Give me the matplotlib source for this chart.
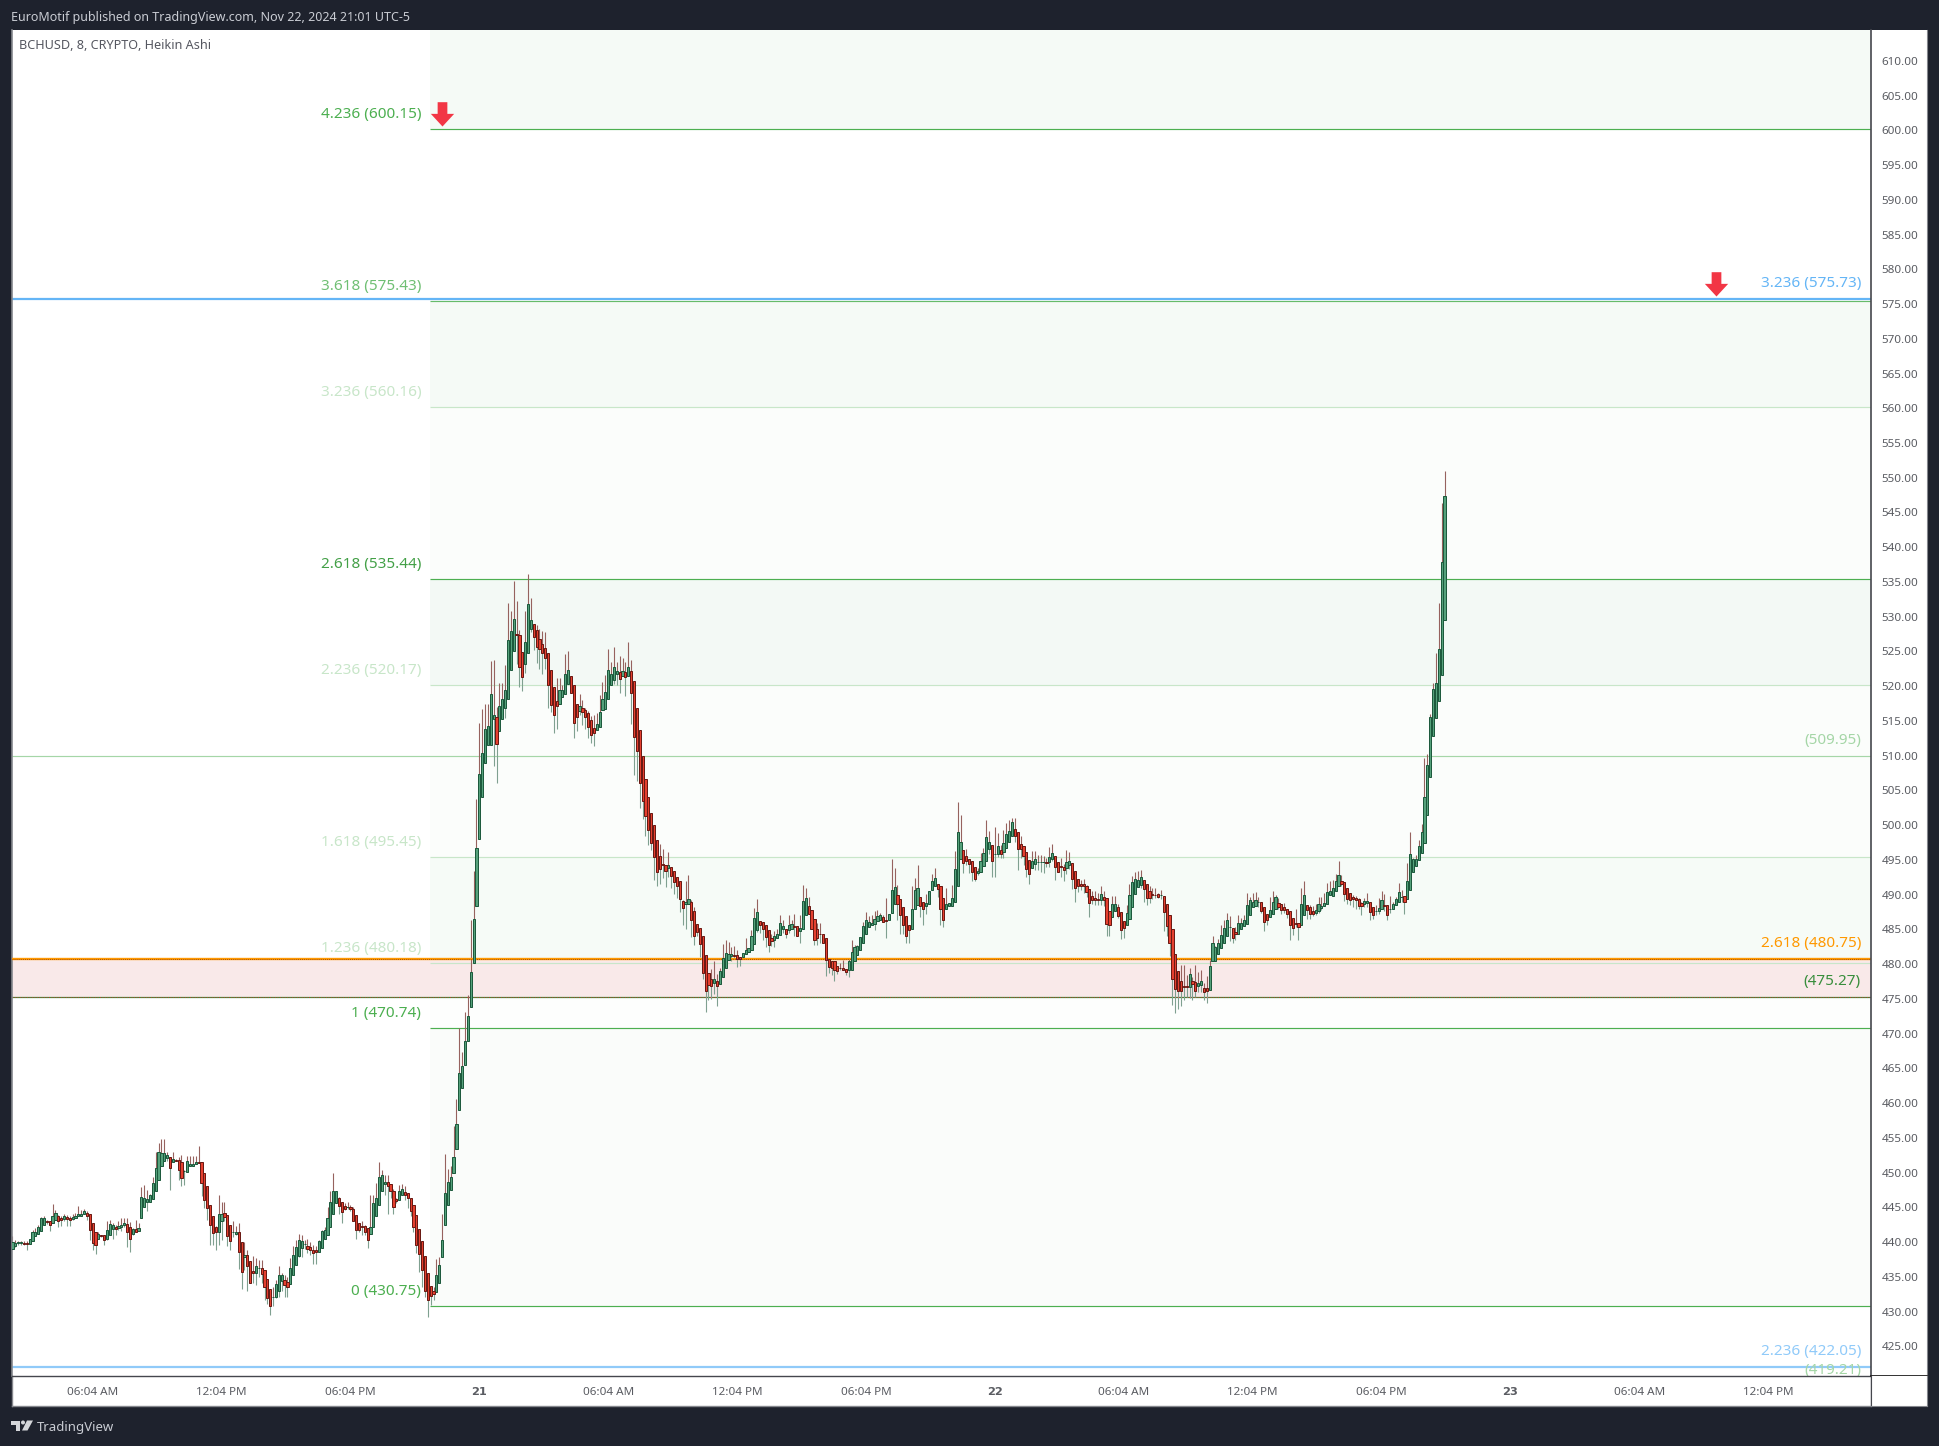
import numpy as np
import matplotlib
matplotlib.use('Agg')
import matplotlib.pyplot as plt
from matplotlib.path import Path
from matplotlib.patches import Rectangle, Circle, Polygon

plt.rcParams['font.family'] = ['Noto Sans', 'DejaVu Sans']

# heikin ashi bars, 8 minute candles, one block per stretch of the chart
open_a = [439.0,439.5,439.8,439.9,439.9,439.8,439.7,440.1,440.8,441.1,
441.6,442.4,443.0,443.0,442.7,443.2,443.7,443.4,443.3,443.6,
443.5,443.3,443.4,443.7,443.8,444.0,444.2,444.0,442.8,441.4,
440.5,441.0,441.0,440.5,441.0,441.9,442.2,442.0,442.1,442.4,
442.6,442.1,441.2,441.9,441.6,443.4,445.0,445.7,445.7,446.2,
447.4,449.0,451.0,451.6,452.1,452.3,451.5,451.8,451.8,451.5,
450.2,450.1,450.9,451.0,451.2,451.5,451.5,450.0,448.0,445.3,
443.8,442.1,441.5,443.0,444.2,443.9,442.5,441.4,441.2,441.5,
440.0,437.8,438.2,437.3,435.8,435.6,436.2,436.2,436.0,434.7,
433.3,432.1,432.1,433.0,434.4,434.6,434.2,433.9,435.2,436.7,
438.0,439.1,439.7,439.5,439.3,438.9,438.8,438.5,439.2,440.4,
441.0,442.2,444.1,445.6,446.4,445.8,445.2,445.0,445.0,444.8,
443.9,442.7,442.3,442.3,442.0,441.1,442.1,443.8,445.4,447.3,
448.4,448.6,448.4,447.3,446.2,446.0,446.8,447.2,447.1,446.3,
445.3,443.9,441.9,440.1,438.0,435.5,433.7,433.0]
close_a = [440.0,439.8,440.0,440.0,439.7,439.7,440.4,441.4,441.5,442.1,
443.4,443.4,442.9,442.5,443.7,444.2,443.0,443.1,443.7,443.3,
443.1,443.6,443.8,444.0,444.1,444.4,443.7,441.7,439.8,439.6,
441.2,440.9,440.3,441.7,442.6,442.5,441.9,442.3,442.5,442.7,
441.4,440.5,441.9,441.4,442.0,446.5,446.4,446.2,446.7,448.5,
450.6,452.9,452.8,452.8,452.5,450.6,451.9,451.7,450.3,449.2,
450.2,451.7,451.3,451.3,451.5,451.4,448.5,446.0,444.9,442.5,
441.3,441.4,444.0,444.1,443.6,440.9,440.2,441.4,441.5,438.5,
435.7,438.2,436.5,434.1,435.5,436.6,436.2,435.4,433.5,431.9,
430.8,432.1,433.9,435.3,435.3,433.8,433.6,436.3,438.1,439.3,
440.3,440.2,439.7,439.0,438.9,438.4,438.5,440.1,441.6,441.7,
443.4,445.8,447.4,447.4,445.2,444.3,444.8,445.0,444.7,443.0,
441.7,441.7,442.2,441.4,440.3,442.2,445.6,446.4,449.3,449.6,
448.7,448.1,447.3,445.0,445.9,447.4,447.6,446.7,446.3,444.4,
442.2,439.6,438.3,436.0,432.9,431.7,432.3,432.5]
high_a = [440.8,440.3,440.2,440.2,440.1,440.2,440.5,441.7,442.0,442.5,
443.6,443.8,443.2,443.0,445.5,444.6,443.9,443.8,444.1,443.9,
443.8,444.1,444.2,445.2,444.6,444.7,444.5,444.0,442.8,441.4,
441.5,441.0,441.0,443.0,443.1,442.8,442.4,443.0,443.4,443.5,
443.4,442.9,442.0,443.2,442.7,447.9,448.2,447.5,446.9,449.4,
452.9,454.2,454.8,454.9,453.0,452.3,453.0,451.9,452.3,452.5,
450.4,452.4,452.4,452.4,452.4,453.8,451.5,450.0,448.0,445.3,
443.8,442.3,446.8,445.8,445.7,443.9,442.5,443.0,442.3,442.7,
440.0,440.0,438.8,437.3,438.0,437.7,437.4,437.4,436.0,434.7,
433.3,433.6,434.6,436.6,435.6,435.3,435.0,437.7,439.4,440.3,
441.2,441.0,440.3,440.5,440.0,439.6,439.4,440.3,441.7,442.1,
445.1,447.4,449.9,447.4,446.5,445.8,445.6,445.8,445.3,445.0,
443.9,442.7,443.0,442.5,442.0,446.8,446.8,448.5,451.5,450.4,
449.7,449.7,448.4,447.7,446.3,448.2,448.4,448.0,447.1,446.3,
445.3,443.9,441.9,440.1,438.0,435.5,433.7,433.6]
low_a = [439.0,439.3,439.6,439.6,439.6,438.8,439.7,440.1,440.8,441.1,
441.6,442.4,442.6,441.6,442.7,443.2,442.1,442.3,443.0,442.3,
442.3,443.2,443.4,443.7,443.8,444.0,443.2,440.3,438.8,438.3,
440.4,440.7,439.6,440.3,441.0,440.4,441.0,441.7,441.6,442.2,
439.3,438.5,441.0,441.4,441.6,443.4,445.0,444.4,445.7,446.2,
447.4,449.0,451.0,451.6,451.6,447.5,451.5,451.6,449.0,448.1,
448.2,450.1,450.9,451.0,451.2,451.4,446.6,444.9,443.2,439.6,
439.6,438.9,439.6,440.3,443.0,439.4,438.9,440.7,441.0,436.1,
433.2,436.0,432.9,434.1,434.1,433.8,435.0,434.1,431.7,431.1,
429.5,430.8,431.9,432.1,432.9,432.1,432.1,433.9,435.2,436.7,
437.9,437.9,439.0,438.4,438.1,436.8,436.9,438.5,439.1,440.4,
441.0,442.2,444.1,445.6,444.0,442.8,444.6,444.7,444.4,443.0,
440.4,441.5,441.0,441.0,439.2,441.1,442.1,443.8,445.4,447.3,
446.8,444.0,446.4,444.0,445.6,446.0,446.8,446.1,444.9,443.7,
441.5,438.4,435.7,433.6,432.1,429.2,431.0,431.7]

open_b = [432.8,434.1,437.8,442.4,445.4,447.5,449.9,453.4,459.0,462.1,
465.5,469.0,473.8,480.1,488.3,498.0,504.0,509.0,511.6,511.6,
515.3,515.5,513.6,515.3,516.8,518.1,522.4,525.1,527.5,527.4,
524.9,523.2,524.8,528.3,529.0,528.1,526.8,526.1,525.5,524.8,
522.4,519.9,517.8,517.5,518.4,518.9,520.3,521.4,520.2,517.4,
516.5,516.9,516.6,516.1,515.2,514.0,513.7,514.1,516.6,516.7,
518.1,520.2,520.9,521.8,522.0,521.5,522.0,521.5,522.2,520.7,
516.8,513.7,509.9,506.7,504.0,501.8,500.0,497.8,495.6,494.4,
494.3,493.9,494.0,493.4,492.5,492.0,489.1,488.7,488.7,489.0,
487.7,485.8,485.2,484.1,481.3,478.7,477.8,477.3,477.5,477.2,
478.2,479.5,480.6]
close_b = [435.2,436.7,440.3,447.0,448.6,449.3,452.2,457.0,464.4,465.3,
468.9,472.5,478.9,486.5,496.7,507.3,510.4,513.9,514.2,518.9,
515.8,511.7,517.1,518.1,519.5,526.7,528.0,529.6,527.3,522.7,
521.3,526.4,531.9,529.5,527.1,525.6,525.3,524.8,524.1,520.1,
517.3,515.8,517.2,519.4,519.5,521.8,522.4,519.0,514.7,515.6,
517.2,516.3,515.6,514.1,513.0,513.3,514.5,516.3,518.2,519.2,
522.4,521.7,522.7,522.2,521.1,522.2,521.3,522.8,519.0,512.7,
510.7,506.0,503.5,501.3,499.3,497.5,495.4,493.2,493.7,494.3,
493.4,494.3,492.7,491.8,491.2,489.4,488.1,489.0,489.4,486.4,
484.0,484.6,482.9,478.7,476.1,477.0,476.8,477.8,476.9,479.0,
480.9,481.6,481.5]
high_b = [437.6,437.8,444.0,452.7,450.5,451.0,456.7,460.6,470.8,467.4,
473.1,475.6,486.4,493.4,503.7,514.7,516.7,517.5,517.4,523.6,
523.7,517.0,520.4,520.4,523.0,532.0,530.8,535.1,532.2,528.1,
524.9,530.8,536.1,532.7,529.0,528.8,528.3,528.0,527.8,524.8,
522.4,519.9,521.2,521.2,520.1,524.6,525.0,521.4,520.2,517.4,
518.9,518.0,516.9,516.5,515.7,515.8,516.1,518.7,520.6,521.6,
525.3,523.5,525.6,523.5,524.3,524.0,523.5,526.3,523.7,520.7,
516.8,513.7,509.9,506.7,504.0,501.8,500.0,497.8,497.3,496.5,
494.3,496.2,494.0,493.4,492.5,492.0,489.2,491.9,492.8,489.2,
488.2,485.8,485.2,484.1,481.3,478.7,479.3,480.5,478.6,479.5,
482.9,483.4,483.2]
low_b = [432.8,434.1,437.8,442.4,445.4,447.5,449.9,453.4,459.0,462.1,
465.5,469.0,473.8,480.1,488.3,498.0,504.0,509.0,511.6,511.6,
508.5,506.1,513.6,515.3,515.4,518.1,522.4,525.1,523.2,519.9,
519.3,521.9,524.8,527.8,525.2,523.3,522.5,521.8,522.5,516.8,
516.3,513.2,513.9,517.5,518.4,518.9,520.3,519.0,512.6,513.6,
515.8,514.4,513.9,512.5,511.8,511.4,513.7,514.1,516.6,516.7,
518.1,520.2,520.3,520.1,519.0,521.5,518.6,521.5,514.6,507.2,
506.3,502.4,500.9,498.5,497.1,496.4,492.1,491.2,491.6,492.4,
491.1,492.5,491.0,490.1,489.5,487.5,485.6,485.1,488.7,483.9,
482.7,484.0,481.0,477.9,473.1,474.8,475.0,475.7,473.9,477.2,
478.2,479.5,480.6]

open_c = [481.1,481.3,481.3,481.0,481.0,481.5,481.7,482.0,482.9,484.9,
486.2,486.0,485.6,484.9,483.7,483.5,483.7,484.2,485.0,485.1,
484.9,485.1,485.5,485.5,484.7,485.0,487.0,488.3,487.8,486.5,
485.0,484.4,484.4,483.7,480.8,480.5,480.4,479.8,479.5,479.5,
479.3,479.2,479.2,480.5,481.3,482.0,483.0,484.3,485.3,485.6,
485.8,486.2,486.4,486.8,486.3,486.3,487.3,488.7,489.9,489.3,
488.2,486.9,485.6,485.1,488.0,488.5,489.7,489.0,488.4,488.6,
490.7,491.2,491.6,491.2,489.5,488.0,488.3,488.4,489.0,491.3,
495.1,496.4,495.6,495.1,494.8,494.0,493.1,493.2,494.1,494.9,
496.6,497.1,495.9,495.9,496.4,496.1,496.7,497.6,498.5,499.4,
499.0,497.3,497.0,496.2,495.0,493.9,494.4,494.7,494.7,494.7,
494.7,494.7,495.1,495.5,494.7,494.1,494.0,493.8,494.2,494.5,
493.4,492.2,491.6,491.5,491.3,490.8,489.8,489.5,489.3,489.2,
489.6,489.5,487.6,486.8,487.6,488.2,487.5,486.2,485.7,486.5,
488.2,490.1,491.1,491.4,492.1,491.5,490.5,490.1,490.0,490.1,
489.9,489.8,488.6,487.0,485.0,481.5,479.0,477.5,476.8,476.8,
476.7]
close_c = [481.5,481.2,480.8,480.8,481.6,482.0,482.3,484.0,486.6,487.5,
485.7,485.1,483.9,482.7,483.3,484.0,484.4,485.9,485.5,484.4,
485.6,485.8,485.4,484.1,485.2,489.1,489.5,487.2,485.0,483.5,
483.8,484.3,483.1,480.6,479.6,479.5,479.2,479.0,479.4,479.2,
478.8,480.4,481.7,482.4,482.6,483.9,485.5,486.3,486.0,485.9,
486.5,486.9,487.0,486.0,486.25,487.2,490.7,491.1,488.7,487.1,
485.7,484.1,484.9,488.0,490.7,490.9,488.4,487.9,488.8,490.5,
491.9,492.4,490.8,487.9,486.4,488.7,488.8,489.5,493.7,499.0,
497.6,494.5,494.8,494.4,493.2,492.2,493.4,494.8,496.0,498.3,
497.6,494.9,495.9,497.0,495.8,497.4,498.7,499.2,500.4,498.4,
496.5,496.5,495.5,493.7,493.0,494.8,495.1,494.7,494.7,494.7,
494.6,495.4,496.0,494.0,493.3,494.0,493.6,494.7,494.8,492.3,
490.9,491.2,491.2,491.2,490.4,488.8,489.2,489.2,489.2,490.1,
489.2,485.8,485.7,488.6,488.6,486.9,484.9,485.2,487.3,489.9,
491.8,492.2,492.1,492.5,490.8,489.5,489.5,490.0,489.9,489.6,
489.9,487.5,485.5,483.1,477.9,476.4,476.1,476.1,476.7,476.7,
478.6]
high_c = [482.5,482.6,482.0,481.0,481.6,483.7,482.3,484.9,488.1,489.4,
486.2,486.0,485.7,484.9,484.4,484.7,485.0,487.1,486.4,485.1,
487.1,486.3,487.2,485.5,487.1,491.4,491.0,489.6,487.8,486.5,
485.9,485.9,484.4,483.7,480.8,480.5,480.4,479.8,480.1,480.6,
479.3,480.9,483.5,482.8,482.8,483.9,486.1,487.5,486.9,487.1,
487.7,487.8,487.3,487.0,489.5,487.2,495.2,493.9,491.4,489.3,
488.2,486.9,485.6,491.3,492.4,494.3,489.7,489.0,490.1,490.5,
493.0,493.8,491.6,491.2,489.5,490.9,488.8,491.4,496.3,503.3,
501.5,496.4,496.5,495.1,494.8,494.0,493.9,496.0,496.7,500.8,
499.1,497.1,499.7,498.8,497.2,499.3,500.3,500.7,501.1,501.0,
499.0,498.5,497.0,496.2,495.0,496.3,496.3,495.7,495.7,495.5,
495.3,496.9,497.3,495.5,494.7,495.3,494.4,496.4,496.2,494.5,
493.4,492.2,492.1,492.3,491.4,490.8,490.5,490.5,490.2,491.3,
490.5,489.5,487.6,489.8,489.8,488.6,487.5,486.2,488.5,491.6,
492.7,493.2,493.4,493.6,492.1,491.5,491.2,490.9,491.0,490.2,
490.7,489.8,488.6,487.0,485.0,481.5,479.0,479.9,479.9,478.4,
479.4]
low_c = [480.4,480.8,479.6,479.7,481.0,481.5,481.7,482.0,482.9,484.6,
484.5,483.4,482.5,481.7,482.6,482.5,483.7,484.2,484.5,483.7,
484.5,485.1,484.0,484.1,483.1,485.0,487.0,487.2,485.0,482.8,
482.8,483.0,483.1,478.3,478.7,478.5,477.5,478.6,479.2,479.1,
478.4,478.1,479.2,480.5,481.3,482.0,483.0,484.3,485.3,485.6,
484.9,486.2,486.4,486.0,483.8,486.3,487.3,488.7,486.3,484.4,
484.4,483.0,483.0,485.1,488.0,488.5,486.8,485.7,487.2,488.6,
490.7,491.2,489.6,485.6,485.3,488.0,488.3,488.4,489.0,491.3,
495.1,493.1,494.2,493.1,491.9,492.0,492.8,493.2,494.1,494.9,
495.8,492.6,492.5,495.4,495.3,495.3,496.7,497.6,498.5,497.6,
493.6,495.3,494.3,492.6,491.6,493.9,493.6,493.6,493.3,493.1,
494.0,494.0,494.8,492.1,493.3,492.5,492.0,493.0,493.7,490.8,
488.9,490.4,490.7,490.2,489.7,486.8,488.7,488.5,488.5,488.5,
488.3,484.0,484.0,486.8,487.6,486.6,483.6,483.7,485.7,486.5,
488.2,490.1,491.1,490.9,488.9,488.5,488.8,489.4,489.5,489.5,
489.4,484.7,484.0,481.1,474.1,473.0,473.5,473.9,474.9,475.3,
475.1]

open_d = [477.6,477.4,476.9,477.0,476.6,476.5,476.3,480.4,480.4,481.4,
482.3,483.1,484.1,485.3,485.2,484.6,484.4,485.1,485.5,485.8,
487.1,488.2,488.4,488.9,488.9,488.2,487.2,486.8,487.2,488.0,
488.8,488.6,488.2,487.9,487.6,486.6,485.9,485.9,485.6,487.0,
488.5,488.2,487.6,487.4,487.6,488.1,488.3,488.6,489.9,489.8,
490.5,491.2,491.9,491.8,490.9,490.2,489.6,489.5,489.4,488.8,
488.6,488.8,488.9,488.2,487.6,487.6,487.9,488.5,488.5,487.9,
487.9,488.5,488.9,489.6,489.8,489.3,490.6,493.2,494.1,495.0,
496.0,497.5,501.5,507.0,512.8,515.4,517.9,521.6,529.5]
close_d = [477.2,476.2,477.3,477.5,476.0,476.1,479.8,483.0,482.4,483.0,
484.2,485.2,486.4,485.3,483.8,484.3,485.9,485.9,486.3,488.5,
489.2,488.9,489.2,488.9,487.6,486.0,486.3,487.8,488.9,489.6,
488.2,487.8,487.8,487.2,485.7,485.2,485.8,485.3,488.6,489.9,
487.8,487.2,487.2,487.8,488.6,488.4,488.8,490.4,490.5,490.9,
492.0,492.8,491.5,490.1,489.3,489.2,489.3,489.2,488.3,488.3,
489.1,489.1,487.5,487.0,487.6,488.1,489.2,488.4,487.0,487.9,
488.6,489.4,490.4,489.7,488.9,491.9,495.8,495.2,495.2,497.0,
499.0,504.0,508.6,515.5,519.6,520.4,525.4,537.9,547.4]
high_d = [478.2,479.9,478.9,479.2,477.3,478.3,480.6,484.1,482.6,483.6,
485.6,486.4,487.4,486.9,485.2,485.4,487.0,486.6,487.0,490.3,
489.6,490.2,490.4,489.6,488.9,488.2,487.2,489.7,490.5,490.0,
489.5,488.6,488.8,487.9,487.6,486.6,487.9,485.9,491.0,492.0,
488.5,488.5,488.3,488.7,489.6,489.7,490.2,491.7,491.9,492.1,
492.9,494.9,492.8,491.8,490.9,490.2,490.0,489.8,489.5,489.0,
489.5,490.2,488.9,488.2,488.5,489.5,490.5,490.1,488.5,489.8,
489.0,489.7,491.7,490.7,489.8,494.5,499.0,495.3,495.7,497.8,
500.1,509.7,510.3,516.0,520.5,524.8,532.0,546.4,550.9]
low_d = [474.8,475.3,476.0,476.0,474.9,474.4,476.3,480.4,480.4,481.4,
482.3,483.1,484.1,483.3,483.0,483.5,484.4,485.1,485.5,485.8,
487.1,488.2,488.4,488.2,487.4,484.7,485.7,486.8,487.2,488.0,
488.0,487.2,487.4,486.6,483.4,484.2,485.3,483.4,485.6,487.0,
486.5,486.5,486.9,487.1,487.3,487.8,488.3,488.6,489.9,489.8,
490.5,491.2,491.2,489.1,488.6,488.5,488.2,488.0,488.0,487.1,
488.2,488.2,486.4,486.5,487.1,487.2,487.9,487.7,486.4,487.3,
487.9,488.5,488.9,488.9,487.2,489.3,490.6,493.2,494.1,495.0,
496.0,497.5,501.5,507.0,512.8,515.4,517.9,521.6,529.5]

# fib drawing anchored at the bar before the 21st
fib_levels = [600.15, 575.43, 560.16, 535.44, 520.17, 495.45, 480.18, 470.74, 430.75]
fib_labels = ['4.236 (600.15)', '3.618 (575.43)', '3.236 (560.16)', '2.618 (535.44)', '2.236 (520.17)',
              '1.618 (495.45)', '1.236 (480.18)', '1 (470.74)', '0 (430.75)']
fib_colors = ['#4caf50', '#66bb6a', '#c8e6c9', '#4caf50', '#c8e6c9', '#c8e6c9', '#c8e6c9', '#4caf50', '#4caf50']
fib_text_colors = ['#4caf50', '#6fbf73', '#c8e6c9', '#43a047', '#c8e6c9', '#c8e6c9', '#c8e6c9', '#4caf50', '#4caf50']
zone_edges = [614.44, 600.15, 575.43, 560.16, 535.44, 520.17, 495.45, 480.18, 470.74, 430.75]
zone_colors = ['#f5faf6', '#ffffff', '#f5faf6', '#fbfdfb', '#f3f9f5', '#fbfdfb', '#f6fbf7', '#fdfefd', '#fafcfa']
fib_start = 145.8

# levels with a label on the right
right_levels = [575.73, 509.95, 480.75, 475.27, 422.05, 419.21]
right_labels = ['3.236 (575.73)', '(509.95)', '2.618 (480.75)', '(475.27)', '2.236 (422.05)', '(419.21)']
right_colors = ['#64b5f6', '#a5d6a7', '#ff9800', '#388e3c', '#90caf9', '#a5d6a7']

arrow_bars = [149.85, 594.85]
arrow_prices = [600.6, 576.2]

price_ticks = list(range(425, 615, 5))
time_ticks = [28, 73, 118, 163, 208, 253, 298, 343, 388, 433, 478, 523, 568, 613]
time_labels = ['06:04 AM', '12:04 PM', '06:04 PM', '21', '06:04 AM', '12:04 PM', '06:04 PM', '22',
               '06:04 AM', '12:04 PM', '06:04 PM', '23', '06:04 AM', '12:04 PM']

opens = np.array(open_a + open_b + open_c + open_d)
closes = np.array(close_a + close_b + close_c + close_d)
highs = np.array(high_a + high_b + high_c + high_d)
lows = np.array(low_a + low_b + low_c + low_d)
bars = np.arange(len(opens))

W, H = 1939, 1446
BG = '#1e222d'
EDGE = '#85878d'
TXT = '#5a5c62'

def box(x0, y0, x1, y1):
    # pixel box, y counted from the top
    return [x0 / W, 1 - y1 / H, (x1 - x0) / W, (y1 - y0) / H]

fig = plt.figure(figsize=(W / 100, H / 100), dpi=100, facecolor=BG)
ax = fig.add_axes(box(12, 30, 1871, 1376))
ax_time = fig.add_axes(box(12, 1376, 1871, 1406), sharex=ax)
ax_price = fig.add_axes(box(1871, 30, 1927, 1376), sharey=ax)
ax_corner = fig.add_axes(box(1871, 1376, 1927, 1406))

ax.set_xlim(-0.17, 648.9)
ax.set_ylim(420.72, 614.44)

# background bands
for top, bottom, c in zip(zone_edges[:-1], zone_edges[1:], zone_colors):
    ax.fill_between([fib_start, 648.9], bottom, top, color=c, lw=0, zorder=0)
ax.axhspan(475.27, 480.75, color='#f9e9e9', lw=0, zorder=0.5)

# levels
for lev, c in zip(fib_levels, fib_colors):
    ax.plot([fib_start, 648.9], [lev, lev], color=c, lw=0.85, zorder=1, solid_capstyle='butt')
ax.axhline(509.95, color=right_colors[1], lw=0.85, zorder=1)
ax.axhline(575.73, color='#64b5f6', lw=1.6, zorder=1.5)
ax.axhline(422.05, color='#90caf9', lw=1.6, zorder=1.5)
ax.axhline(480.75, color='#ff9800', lw=1.7, zorder=3)
ax.axhline(480.75, color='#8a3a10', lw=0.6, ls=(0, (1, 1.5)), zorder=3.1)
ax.axhline(475.27, color='#388e3c', lw=0.9, zorder=1.5)
ax.axhline(475.27, color='#c0392b', lw=0.7, ls=(0, (1, 1.5)), zorder=1.6)

# candles
up = closes >= opens
body_top = np.maximum(opens, closes)
body_bot = np.minimum(opens, closes)
ax.vlines(bars, body_top, highs, color='#96625e', lw=0.8, zorder=2)
ax.vlines(bars, lows, body_bot, color='#7fa090', lw=0.8, zorder=2)
ax.bar(bars[up], (body_top - body_bot)[up], bottom=body_bot[up], width=0.76, color='#55a17b',
       edgecolor='#1d5a3d', linewidth=0.72, zorder=4)
ax.bar(bars[~up], (body_top - body_bot)[~up], bottom=body_bot[~up], width=0.76, color='#e5402f',
       edgecolor='#6a1a14', linewidth=0.72, zorder=4)

# left labels of the fib
for lev, lab, c in zip(fib_levels, fib_labels, fib_text_colors):
    ax.annotate(lab, xy=(142.7, lev), xytext=(0, 10.6), textcoords='offset points', ha='right', va='center',
                color=c, fontsize=11, zorder=5)

# right labels
for lev, lab, c in zip(right_levels, right_labels, right_colors):
    ax.annotate(lab, xy=(645.4, lev), xytext=(0, 11.3), textcoords='offset points', ha='right', va='center',
                color=c, fontsize=11, zorder=5, annotation_clip=False, clip_on=True)

# red arrows, tip on the price
arrow = Path([(0, 0), (0.48, 0.52), (0.2, 0.52), (0.2, 1), (-0.2, 1), (-0.2, 0.52), (-0.48, 0.52), (0, 0)], closed=True)
ax.plot(arrow_bars, arrow_prices, ls='none', marker=arrow, markersize=35, mfc='#f23645', mec='none', zorder=6)

ax.text(0.0035, 0.9885, 'BCHUSD, 8, CRYPTO, Heikin Ashi', transform=ax.transAxes, ha='left', va='center',
        color='#555760', fontsize=9.1)

# axes furniture
ax.tick_params(left=False, bottom=False, labelleft=False, labelbottom=False)
for s in ['top', 'right', 'bottom']:
    ax.spines[s].set_visible(False)
ax.spines['left'].set_color(EDGE)
ax.spines['left'].set_linewidth(1.2)

ax_time.set_ylim(0, 1)
ax_time.set_yticks([])
ax_time.set_xticks(time_ticks)
ax_time.set_xticklabels(time_labels, fontsize=8.4, color=TXT)
for t, lab in zip(ax_time.get_xticklabels(), time_labels):
    if len(lab) == 2:
        t.set_family('DejaVu Sans')
        t.set_fontweight('bold')
        t.set_fontsize(8.2)
ax_time.tick_params(axis='x', length=0, pad=-13.6)
ax_time.spines['top'].set_color('#45474d')
ax_time.spines['right'].set_color('#45474d')
ax_time.spines['left'].set_color(EDGE)
ax_time.spines['bottom'].set_color(EDGE)
for s in ax_time.spines.values():
    s.set_linewidth(1.0)

ax_price.set_xticks([])
ax_price.set_yticks(price_ticks)
ax_price.set_yticklabels(['%.2f' % p for p in price_ticks], fontsize=8.4, color=TXT)
for t in ax_price.get_yticklabels():
    t.set_ha('left')
ax_price.tick_params(axis='y', length=0, pad=-7.4)
ax_price.spines['top'].set_visible(False)
ax_price.spines['left'].set_color('#45474d')
ax_price.spines['left'].set_linewidth(1.2)
ax_price.spines['right'].set_color(EDGE)
ax_price.spines['bottom'].set_color('#222222')
ax_price.spines['bottom'].set_linewidth(1.3)

ax_corner.set_xticks([])
ax_corner.set_yticks([])
ax_corner.spines['top'].set_visible(False)
ax_corner.spines['left'].set_color('#45474d')
ax_corner.spines['right'].set_color(EDGE)
ax_corner.spines['bottom'].set_color(EDGE)

# header and footer
fig.text(11 / W, 1 - 17.5 / H, 'EuroMotif published on TradingView.com, Nov 22, 2024 21:01 UTC-5',
         color='#c9ccd3', fontsize=9.0, ha='left', va='center')
fig.text(36.5 / W, 1 - 1427 / H, 'TradingView', color='#c9ccd3', fontsize=9.5, ha='left', va='center')

# logo
logo = fig.add_axes(box(11, 1420, 33, 1431))
logo.set_xlim(0, 22)
logo.set_ylim(11, 0)
logo.axis('off')
logo.add_patch(Rectangle((0, 0.5), 9, 4, color='#d4d6da', lw=0))
logo.add_patch(Rectangle((4.5, 0.5), 4.5, 10, color='#d4d6da', lw=0))
logo.add_patch(Circle((12, 2.5), 2, color='#d4d6da', lw=0))
logo.add_patch(Polygon([(16, 0.5), (22, 0.5), (16.5, 10.5), (11, 10.5)], color='#d4d6da', lw=0))

fig.savefig('out.png', dpi=100, facecolor=BG)
